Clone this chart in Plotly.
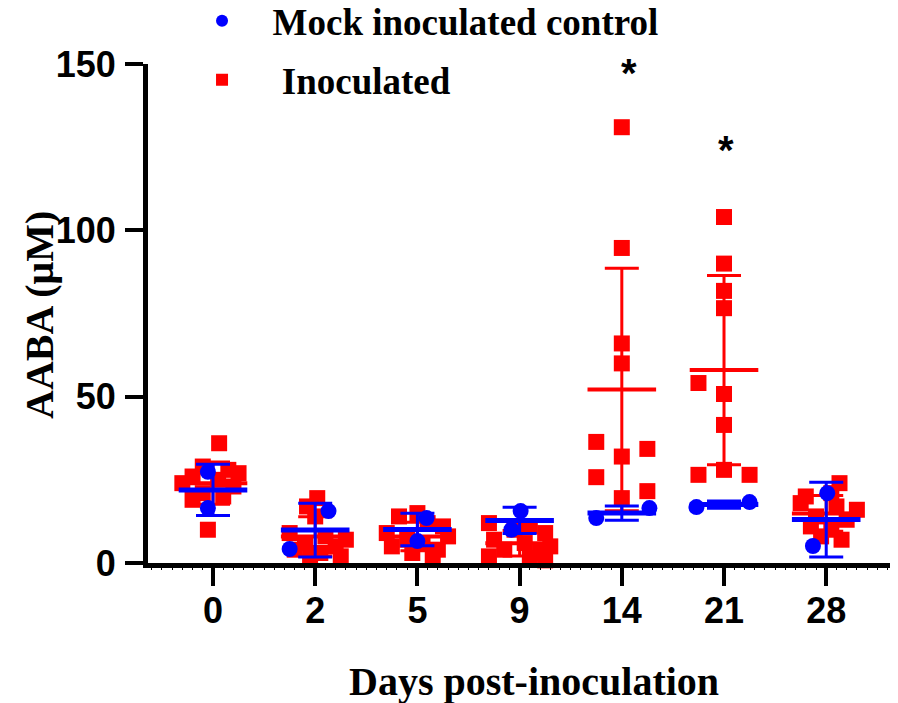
import numpy as np
import plotly.graph_objects as go

days = ["0", "2", "5", "9", "14", "21", "28"]

# Inoculated (red squares) values per day, and horizontal scatter offsets
inoc_vals = [
    [36, 29, 28, 27, 26, 25, 24, 23, 21, 20, 19, 10],
    [19.5, 17, 14, 9, 8, 7, 6, 5, 4, 3, 2, 1.5],
    [15, 14, 12, 11, 9, 8, 7, 6, 5, 4, 3, 2],
    [12, 11, 10, 9, 7, 6, 5, 4, 3, 2, 1.5, 0.8],
    [131, 94.7, 66, 60, 36.4, 34.3, 32, 25.8, 21.6, 19.5],
    [104, 90, 81.8, 76.6, 54.1, 50.8, 41.5, 26.5, 28, 26.5],
    [24, 21, 20, 18, 17, 16, 14, 13, 11, 10, 8, 7],
]
inoc_jit = [
    [0.06, -0.1, 0.15, 0.25, -0.2, 0.05, -0.3, 0.2, -0.1, 0.1, -0.2, -0.05],
    [0.02, -0.08, 0.0, -0.25, 0.1, 0.3, -0.1, 0.2, -0.2, 0.05, 0.25, -0.05],
    [0.0, -0.18, 0.1, 0.25, -0.3, 0.3, -0.1, 0.05, -0.25, 0.2, -0.05, 0.15],
    [-0.3, 0.1, -0.05, 0.25, -0.25, 0.05, 0.3, -0.15, 0.2, -0.3, 0.1, 0.25],
    [0, 0, 0, 0, -0.25, 0.25, 0, -0.25, 0.25, 0],
    [0, 0, 0, 0, -0.25, 0, 0, -0.25, 0, 0.25],
    [0.13, 0.05, -0.2, -0.25, 0.1, 0.3, -0.1, 0.2, -0.15, 0.05, -0.05, 0.15],
]

# Mock inoculated control (blue circles)
mock_vals = [
    [27.4, 16.5],
    [15.6, 4.2],
    [13.5, 6.6],
    [15.6, 10.0],
    [13.5, 16.5],
    [16.8, 18.3],
    [21.0, 5.1],
]
mock_jit = [
    [-0.05, -0.05],
    [0.13, -0.25],
    [0.09, 0.0],
    [0.01, -0.08],
    [-0.25, 0.27],
    [-0.27, 0.25],
    [0.01, -0.13],
]

sig_days = [4, 5]
sig_y = [147.3, 124.0]

x_title = "Days post-inoculation"
y_title = "AABA (μM)"

RED = "#ff0000"
BLUE = "#0000ff"
TITLE_FONT = dict(family="Liberation Serif", size=40, color="black", weight="bold")


def flat(vals, jit):
    xs, ys = [], []
    for i, (v, j) in enumerate(zip(vals, jit)):
        for a, b in zip(v, j):
            xs.append(i + b)
            ys.append(a)
    return xs, ys


def stats(vals):
    m = [float(np.mean(v)) for v in vals]
    s = [float(np.std(v, ddof=1)) for v in vals]
    return m, s


fig = go.Figure()

ix, iy = flat(inoc_vals, inoc_jit)
fig.add_trace(go.Scatter(
    x=ix, y=iy, mode="markers", name="\u00a0Inoculated", legendrank=2, legendgroup="inoc",
    marker=dict(symbol="square", size=16, color=RED, line=dict(width=0)),
    cliponaxis=False,
))
im, isd = stats(inoc_vals)
fig.add_trace(go.Scatter(
    x=list(range(len(days))), y=im, mode="markers", showlegend=False, legendgroup="inoc",
    marker=dict(symbol="line-ew", size=49, color=RED, line=dict(width=4, color=RED)),
    error_y=dict(type="data", array=isd, symmetric=True, color=RED, thickness=3, width=17),
    cliponaxis=False,
))

mx, my = flat(mock_vals, mock_jit)
fig.add_trace(go.Scatter(
    x=mx, y=my, mode="markers", name="Mock inoculated control", legendrank=1, legendgroup="mock",
    marker=dict(symbol="circle", size=16, color=BLUE, line=dict(width=0)),
    cliponaxis=False,
))
mm, msd = stats(mock_vals)
fig.add_trace(go.Scatter(
    x=list(range(len(days))), y=mm, mode="markers", showlegend=False, legendgroup="mock",
    marker=dict(symbol="line-ew", size=49, color=BLUE, line=dict(width=5, color=BLUE)),
    error_y=dict(type="data", array=msd, symmetric=True, color=BLUE, thickness=3, width=17),
    cliponaxis=False,
))

for d, yv, dx in zip(sig_days, sig_y, [7, 2]):
    fig.add_annotation(x=d, y=yv, text="*", showarrow=False, xshift=dx,
                       font=dict(family="Liberation Sans", size=40, color="black", weight="bold"))

# axis titles
fig.add_annotation(xref="paper", yref="paper", x=0.5167, y=-0.2375, text=x_title,
                   showarrow=False, xanchor="center", yanchor="middle", font=TITLE_FONT)
fig.add_annotation(xref="paper", yref="paper", x=-0.1446, y=0.497, text=y_title, textangle=-90,
                   showarrow=False, xanchor="center", yanchor="middle", font=TITLE_FONT)

fig.update_layout(
    width=890, height=695,
    margin=dict(l=140, r=3, t=56, b=140, autoexpand=False),
    plot_bgcolor="white", paper_bgcolor="white",
    legend=dict(
        x=0.0315, y=1.148, xanchor="left", yanchor="top",
        font=dict(family="Liberation Serif", size=37, color="black", weight="bold"),
        traceorder="grouped", tracegroupgap=8, itemsizing="constant", itemwidth=91,
        bgcolor="rgba(0,0,0,0)",
    ),
    xaxis=dict(
        range=[-0.636, 6.673], tickmode="array", tickvals=list(range(len(days))), ticktext=days,
        showline=True, linewidth=5, linecolor="black", mirror=False,
        ticks="outside", ticklen=18, tickwidth=4, tickcolor="black",
        showgrid=False, zeroline=False,
        tickfont=dict(family="Liberation Sans", size=36, color="black", weight="bold"),
        ticklabelstandoff=-6,
        minor=dict(dtick=0.1, tick0=0, ticks="outside", ticklen=2, tickwidth=1, tickcolor="black", showgrid=False),
    ),
    yaxis=dict(
        range=[0, 150], tickmode="array", tickvals=[0, 50, 100, 150],
        showline=True, linewidth=5, linecolor="black",
        ticks="outside", ticklen=18, tickwidth=4, tickcolor="black",
        showgrid=False, zeroline=False,
        tickfont=dict(family="Liberation Sans", size=36, color="black", weight="bold"),
        ticklabelstandoff=2,
    ),
)

fig.write_html("out.html")
